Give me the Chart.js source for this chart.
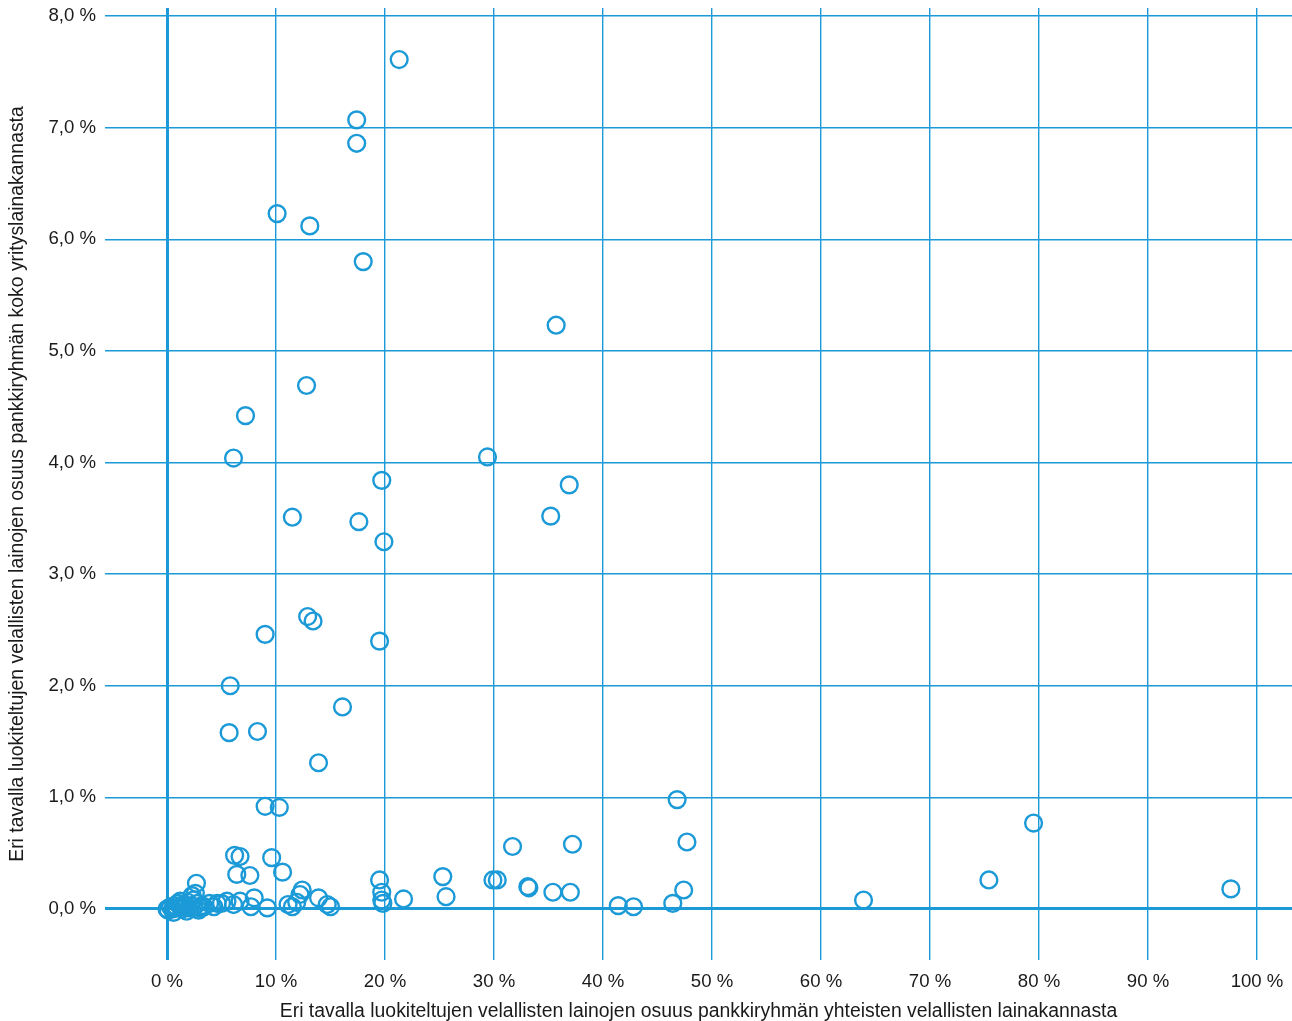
<!DOCTYPE html>
<html>
<head>
<meta charset="utf-8">
<script src="https://cdn.jsdelivr.net/npm/chart.js@4"></script>
<style>
  body { margin: 0; background: #fff; }
  #wrap { width: 1292px; height: 1021px; position: relative; }
</style>
</head>
<body>
<div id="wrap"><canvas id="scatterChart"></canvas></div>
<script>
// Osuus yhteisten velallisten lainakannasta (%), x
const shareOfCommon = [
  21.3, 17.4, 17.4, 10.1, 13.1, 18.0, 35.7, 12.8, 7.2, 6.1, 29.4, 19.7, 36.9, 11.5, 35.2, 17.6, 19.9,
  12.9, 13.4, 9.0, 19.5, 5.8, 16.1, 5.7, 8.3, 13.9, 46.8, 9.0, 10.3, 79.5, 47.7, 37.2, 31.7,
  6.2, 6.7, 9.6, 10.6, 6.4, 7.6, 25.3, 75.4, 19.5, 29.9, 30.3, 33.1, 33.2, 35.4, 37.0, 47.4, 97.6,
  25.6, 19.7, 19.7, 19.8, 21.7, 63.9, 41.4, 42.8, 46.4,
  12.4, 12.2, 13.9, 11.9, 11.1, 11.5, 14.7, 15.0, 9.2,
  8.0, 7.7, 6.7, 6.1, 5.5, 5.0, 4.6, 4.3, 3.9,
  0.0, 0.1, 0.3, 0.5, 0.7, 0.9, 1.0, 1.2, 1.4, 1.5, 1.7, 1.9, 2.0, 2.2, 2.4, 2.5, 2.6, 2.7, 2.8,
  3.0, 3.2, 2.3, 1.2, 3.4, 0.6, 1.8, 2.9
];
// Osuus koko yrityslainakannasta (%), y
const shareOfTotal = [
  7.61, 7.07, 6.86, 6.23, 6.12, 5.80, 5.23, 4.69, 4.42, 4.04, 4.05, 3.84, 3.80, 3.51, 3.52, 3.47, 3.29,
  2.62, 2.58, 2.46, 2.40, 2.00, 1.81, 1.58, 1.59, 1.31, 0.98, 0.92, 0.91, 0.77, 0.60, 0.58, 0.56,
  0.48, 0.47, 0.46, 0.33, 0.31, 0.30, 0.29, 0.26, 0.26, 0.26, 0.26, 0.20, 0.19, 0.15, 0.15, 0.17, 0.18,
  0.11, 0.15, 0.08, 0.05, 0.09, 0.08, 0.03, 0.02, 0.05,
  0.17, 0.13, 0.10, 0.06, 0.04, 0.02, 0.04, 0.02, 0.01,
  0.10, 0.02, 0.07, 0.04, 0.07, 0.05, 0.05, 0.02, 0.05,
  0.00, -0.01, 0.02, 0.00, 0.03, 0.01, 0.05, 0.02, 0.00, 0.04, 0.02, 0.06, 0.01, 0.03, 0.08, 0.02, 0.14, 0.23, 0.05,
  0.01, 0.03, 0.12, 0.07, 0.02, -0.03, -0.02, -0.01
];
const xTicks = [0, 10, 20, 30, 40, 50, 60, 70, 80, 90, 100];
const yTicks = [0, 1, 2, 3, 4, 5, 6, 7, 8];

const BLUE = '#1b9ad7';
const TEXT = '#1a1a1a';
const FONT = "'Liberation Sans', Arial, sans-serif";

// grid: zero lines drawn heavier
const gridWidth = ctx => (ctx.tick && ctx.tick.value === 0 ? 3 : 1.4);

new Chart(document.getElementById('scatterChart').getContext('2d'), {
  type: 'scatter',
  data: {
    datasets: [{
      label: 'Pankkiryhmät',
      data: shareOfCommon.map((x, i) => ({ x, y: shareOfTotal[i] })),
      pointStyle: 'circle',
      pointRadius: 8.4,
      pointBorderWidth: 2.4,
      pointBorderColor: BLUE,
      pointBackgroundColor: 'rgba(0,0,0,0)'
    }]
  },
  options: {
    responsive: true,
    maintainAspectRatio: false,
    animation: false,
    layout: { autoPadding: false, padding: { top: 8, right: 0, left: 0, bottom: 0 } },
    plugins: { legend: { display: false }, tooltip: { enabled: false } },
    scales: {
      x: {
        type: 'linear',
        min: -5.69,
        max: 103.21,
        afterBuildTicks: s => { s.ticks = xTicks.map(v => ({ value: v })); },
        afterFit: s => { s.height = 61; s.paddingLeft = 0; s.paddingRight = 0; },
        border: { display: false },
        grid: { color: BLUE, drawTicks: false, lineWidth: gridWidth },
        ticks: {
          padding: 11,
          color: TEXT,
          font: { family: FONT, size: 18.6 },
          maxRotation: 0,
          callback: v => v + ' %'
        },
        title: {
          display: true,
          text: 'Eri tavalla luokiteltujen velallisten lainojen osuus pankkiryhmän yhteisten velallisten lainakannasta',
          color: TEXT,
          font: { family: FONT, size: 19.4 },
          padding: { top: 0, bottom: -2 }
        }
      },
      y: {
        type: 'linear',
        min: -0.457,
        max: 8.072,
        afterBuildTicks: s => { s.ticks = yTicks.map(v => ({ value: v })); },
        afterFit: s => { s.width = 105; s.paddingTop = 0; s.paddingBottom = 0; },
        border: { display: false },
        grid: { color: BLUE, drawTicks: false, lineWidth: gridWidth },
        ticks: {
          padding: 9,
          color: TEXT,
          font: { family: FONT, size: 18.6 },
          callback: v => v.toFixed(1).replace('.', ',') + ' %'
        },
        title: {
          display: true,
          text: 'Eri tavalla luokiteltujen velallisten lainojen osuus pankkiryhmän koko yrityslainakannasta',
          color: TEXT,
          font: { family: FONT, size: 19.4 },
          padding: { top: 6, bottom: 0 }
        }
      }
    }
  }
});
</script>
</body>
</html>
